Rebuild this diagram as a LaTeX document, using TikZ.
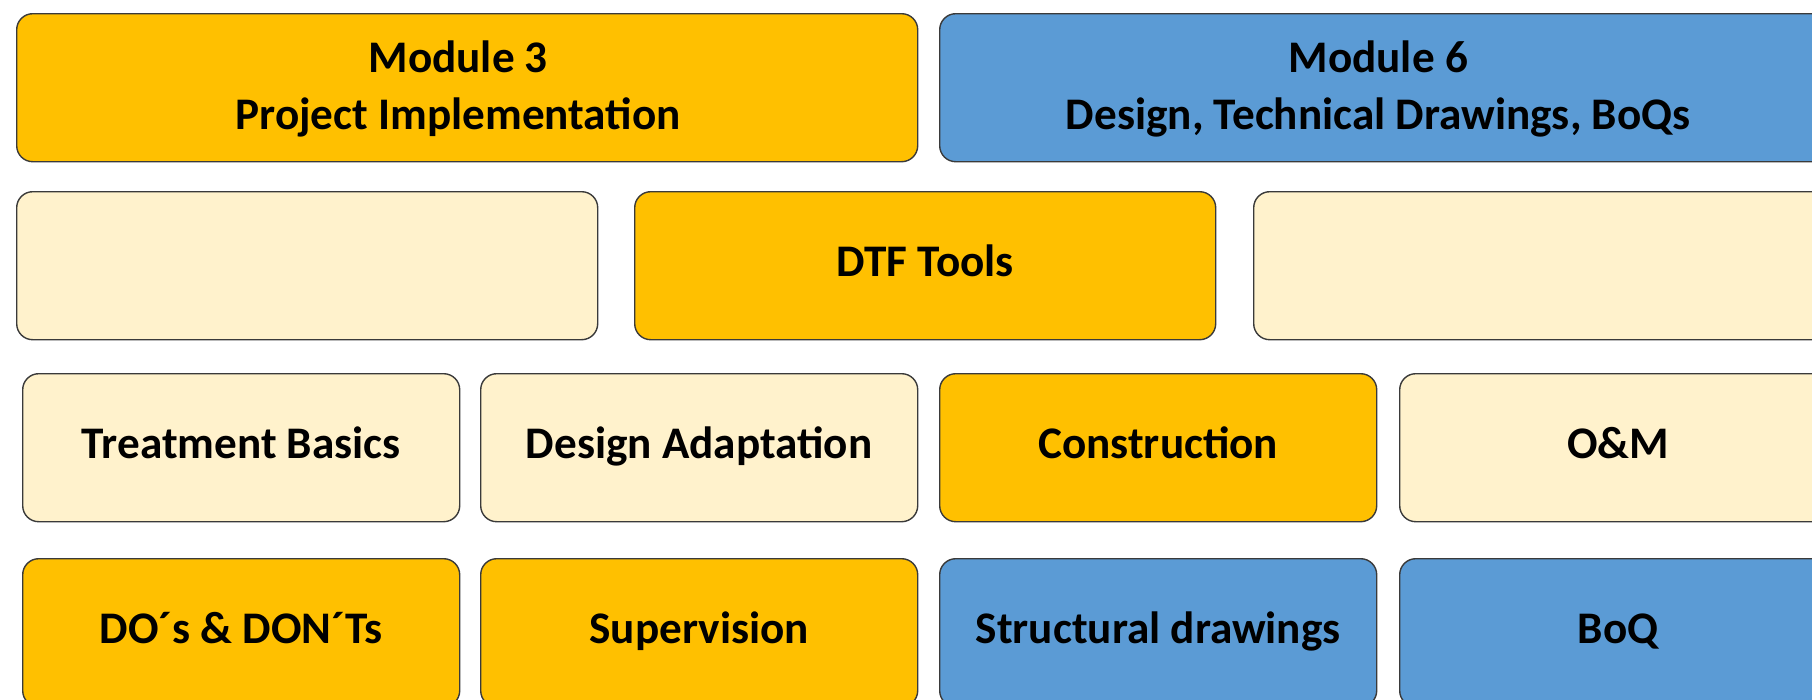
\documentclass[tikz,border=0pt]{standalone}
\usepackage{fontspec}
\setmainfont{Carlito}
\begin{document}
\begin{tikzpicture}[x=1pt,y=-1pt,
  tile/.style={draw=tileline, line width=1.4pt, rounded corners=16pt,
    minimum height=148pt, inner sep=0pt, anchor=north west,
    font=\fontsize{45.2}{56}\selectfont\bfseries,
    text height=30pt, text depth=9pt},
  amber/.style={tile, fill=amberfill},
  cream/.style={tile, fill=creamfill},
  sky/.style={tile, fill=skyfill},
  wide/.style={minimum width=901pt},
  half/.style={minimum width=581pt},
  quarter/.style={minimum width=437pt},
  headline/.style={anchor=base, inner sep=0pt,
    font=\fontsize{45.2}{56}\selectfont\bfseries}
]
\definecolor{amberfill}{HTML}{FFC000}
\definecolor{creamfill}{HTML}{FFF2CC}
\definecolor{skyfill}{HTML}{5B9BD5}
\definecolor{tileline}{HTML}{3A3A3A}

\useasboundingbox (0,0) rectangle (1812,699);
\begin{scope}
\clip (0,0) rectangle (1812,699);

% top row: the two modules
\node[amber, wide] (m3) at (16,13) {};
\node[sky, wide] (m6) at (939,13) {};
\node[headline] (m3a) at ([xshift=-9pt, yshift=15pt]m3.center) {Module 3};
\node[headline] (m3b) at ([xshift=-9pt, yshift=-42pt]m3.center) {Project Implementation};
\node[headline] (m6a) at ([xshift=-12pt, yshift=15pt]m6.center) {Module 6};
\node[headline] (m6b) at ([xshift=-12pt, yshift=-42pt]m6.center) {Design, Technical Drawings, BoQs};

% second row
\node[cream, half] (r2a) at (16,191) {};
\node[amber, half] (dtf) at (634,191) {DTF Tools};
\node[cream, half] (r2c) at (1253,191) {};

% third row
\node[cream, quarter] (tb) at (22,373) {Treatment Basics};
\node[cream, quarter] (da) at (480,373) {Design Adaptation};
\node[amber, quarter] (con) at (939,373) {Construction};
\node[cream, quarter] (om) at (1399,373) {O\&M};

% bottom row
\node[amber, quarter] (dos) at (22,558) {DO´s \& DON´Ts};
\node[amber, quarter] (sup) at (480,558) {Supervision};
\node[sky, quarter] (sd) at (939,558) {Structural drawings};
\node[sky, quarter] (boq) at (1399,558) {BoQ};
\end{scope}
\end{tikzpicture}
\end{document}
